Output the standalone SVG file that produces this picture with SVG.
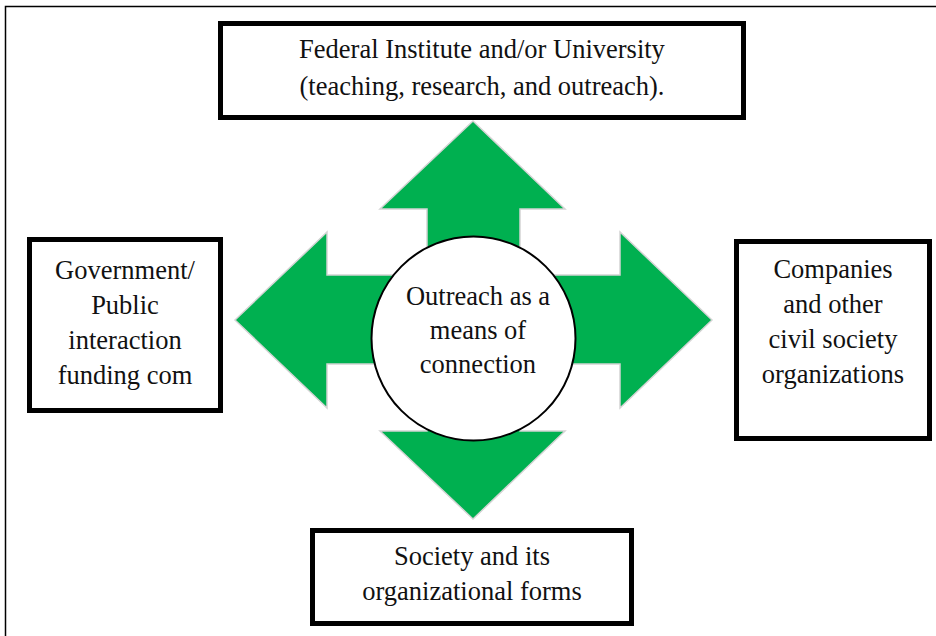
<svg xmlns="http://www.w3.org/2000/svg" width="936" height="636" viewBox="0 0 936 636" font-family="'Liberation Serif', 'Times New Roman', Tinos, 'DejaVu Serif', serif">
  <style>
    .frame { fill: none; stroke: #000; stroke-width: 1.5; }
    .box { fill: #fff; stroke: #000; stroke-width: 5; }
    .arrow { fill: #00B050; stroke: #d4d4d4; stroke-width: 1.5; stroke-linejoin: miter; }
    .hub { fill: #fff; stroke: #000; stroke-width: 2; }
    .t { font-family: 'Liberation Serif', 'Times New Roman', Tinos, 'DejaVu Serif', serif; font-size: 26.5px; fill: #111; text-anchor: middle; }
  </style>

  <rect width="936" height="636" fill="#fff"/>
  <!-- page frame (runs off the right and bottom edges) -->
  <path class="frame" d="M5.5,636 V6.5 H936"/>

  <g id="connectors">
    <!-- up -->
    <polygon class="arrow" points="473,121 565,209 520,209 520,300 427,300 427,209 380,209"/>
    <!-- down -->
    <polygon class="arrow" points="427,380 520,380 520,431 565,431 473,519 380,431 427,431"/>
    <!-- left -->
    <polygon class="arrow" points="235,320 327,232 327,275 420,275 420,364 327,364 327,408"/>
    <!-- right -->
    <polygon class="arrow" points="712,320 620,232 620,275 525,275 525,364 620,364 620,408"/>
  </g>

  <g id="hub">
    <circle class="hub" cx="473.5" cy="338.5" r="102"/>
    <text class="t" x="478" y="305">Outreach as a</text>
    <text class="t" x="478" y="339">means of</text>
    <text class="t" x="478" y="373">connection</text>
  </g>

  <g id="university">
    <rect class="box" x="220.5" y="23.5" width="523" height="94"/>
    <text class="t" x="482" y="58">Federal Institute and/or University</text>
    <text class="t" x="482" y="95">(teaching, research, and outreach).</text>
  </g>

  <g id="government">
    <rect class="box" x="29.5" y="239.5" width="191" height="171"/>
    <text class="t" x="125" y="279">Government/</text>
    <text class="t" x="125" y="314">Public</text>
    <text class="t" x="125" y="349">interaction</text>
    <text class="t" x="125" y="384">funding com</text>
  </g>

  <g id="companies">
    <rect class="box" x="736.5" y="241.5" width="193" height="197"/>
    <text class="t" x="833" y="278">Companies</text>
    <text class="t" x="833" y="313">and other</text>
    <text class="t" x="833" y="348">civil society</text>
    <text class="t" x="833" y="383">organizations</text>
  </g>

  <g id="society">
    <rect class="box" x="312.5" y="530.5" width="319" height="93"/>
    <text class="t" x="472" y="565">Society and its</text>
    <text class="t" x="472" y="600">organizational forms</text>
  </g>
</svg>
